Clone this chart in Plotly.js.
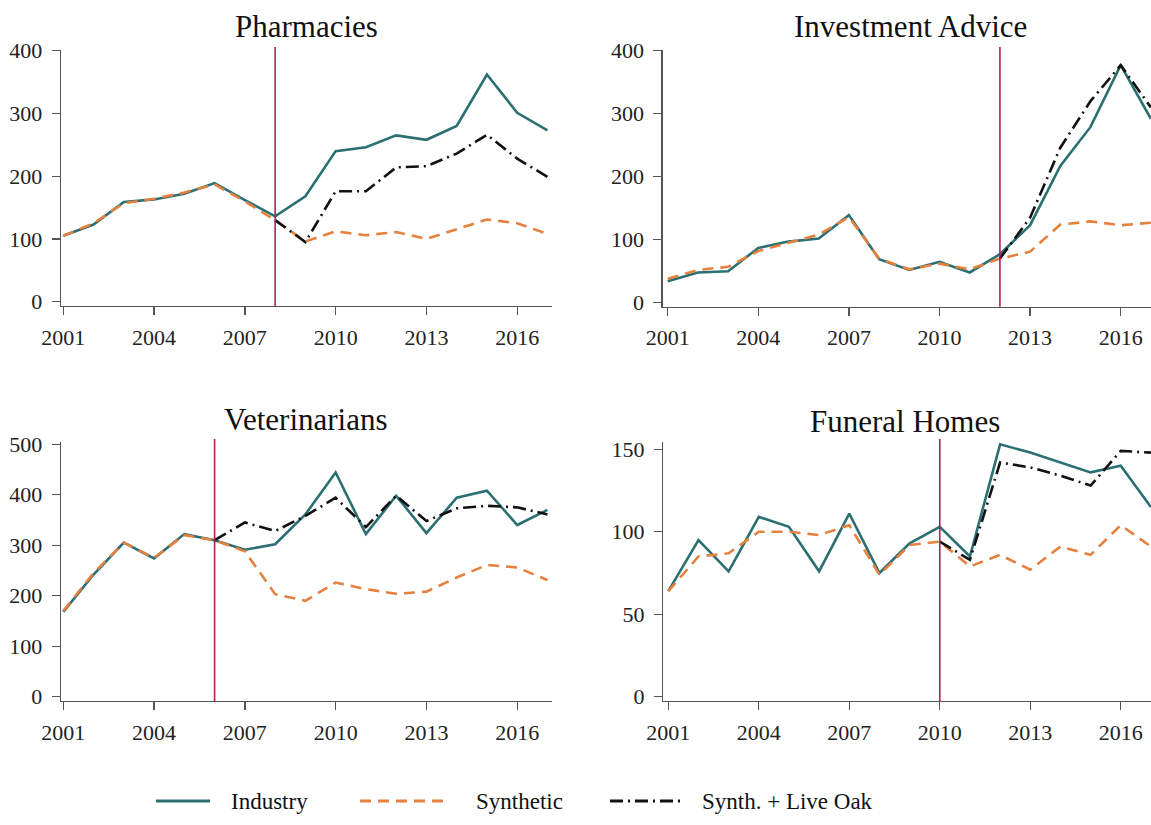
<!DOCTYPE html>
<html>
<head>
<meta charset="utf-8">
<script src="https://cdn.plot.ly/plotly-3.0.1.min.js"></script>
<style>html,body{margin:0;padding:0;background:#fff;}#chart{width:1151px;height:825px;}</style>
</head>
<body>
<div id="chart"></div>
<script>
const years = [2001,2002,2003,2004,2005,2006,2007,2008,2009,2010,2011,2012,2013,2014,2015,2016,2017];
const xTicks = [2001,2004,2007,2010,2013,2016];
const panelTitles = ["Pharmacies","Investment Advice","Veterinarians","Funeral Homes"];
const treatYears = [2008, 2012, 2006, 2010];
const seriesNames = ["Industry","Synthetic","Synth. + Live Oak"];

const pharmIndustry = [105,123,159,163,172,189,162,136,168,240,246,265,258,280,362,301,273];
const pharmSynth    = [105,125,157,164,174,187,160,130,96,112,106,111,100,115,131,125,108];
const pharmLiveOak  = [null,null,null,null,null,null,null,130,95,176,176,214,216,236,266,228,199];

const investIndustry = [34,48,50,87,97,102,139,69,52,65,48,77,123,217,279,377,292];
const investSynth    = [38,52,57,82,95,108,136,70,53,62,53,70,81,124,129,123,127];
const investLiveOak  = [null,null,null,null,null,null,null,null,null,null,null,70,135,246,320,377,310];

const vetIndustry = [168,242,305,274,322,310,291,302,361,444,322,398,324,394,408,340,370];
const vetSynth    = [170,245,305,275,320,310,288,203,190,226,213,204,208,236,261,256,231];
const vetLiveOak  = [null,null,null,null,null,310,345,328,358,394,336,398,348,373,378,375,361];

const funeralIndustry = [64,95,76,109,103,76,111,75,93,103,85,153,148,142,136,140,115];
const funeralSynth    = [64,85,87,100,100,98,104,74,92,94,79,86,77,91,86,104,91];
const funeralLiveOak  = [null,null,null,null,null,null,null,null,null,94,83,142,139,134,128,149,148];

const yTicks = [[0,100,200,300,400],[0,100,200,300,400],[0,100,200,300,400,500],[0,50,100,150]];

const TEAL = '#2b6f73';
const ORANGE = '#e5813f';
const BLACK = '#111111';
const TREAT = '#b8195e';
const FONT = 'Liberation Serif, Times New Roman, serif';

const panels = [
  [pharmIndustry, pharmSynth, pharmLiveOak],
  [investIndustry, investSynth, investLiveOak],
  [vetIndustry, vetSynth, vetLiveOak],
  [funeralIndustry, funeralSynth, funeralLiveOak]
];

const traces = [];
panels.forEach((p, i) => {
  const xa = i === 0 ? 'x' : 'x' + (i + 1);
  const ya = i === 0 ? 'y' : 'y' + (i + 1);
  traces.push({x: years, y: p[0], xaxis: xa, yaxis: ya, mode: 'lines', name: seriesNames[0],
    line: {color: TEAL, width: 2.6}, showlegend: false, hoverinfo: 'skip'});
  traces.push({x: years, y: p[1], xaxis: xa, yaxis: ya, mode: 'lines', name: seriesNames[1],
    line: {color: ORANGE, width: 2.6, dash: '11px,7px'}, showlegend: false, hoverinfo: 'skip'});
  traces.push({x: years, y: p[2], xaxis: xa, yaxis: ya, mode: 'lines', name: seriesNames[2],
    line: {color: BLACK, width: 2.6, dash: '13px,5px,2px,5px'}, showlegend: false, hoverinfo: 'skip', connectgaps: false});
});

function xAxis(domain, range, anchor) {
  return {domain: domain, range: range, anchor: anchor, showline: true, linecolor: '#555', linewidth: 1.3,
    ticks: 'outside', ticklen: 8, tickwidth: 1.3, tickcolor: '#555', tickvals: xTicks,
    showgrid: false, zeroline: false, ticklabelstandoff: 3,
    tickfont: {family: FONT, size: 22, color: '#222'}, fixedrange: true};
}
function yAxis(domain, range, anchor, ticks) {
  return {domain: domain, range: range, anchor: anchor, showline: true, linecolor: '#555', linewidth: 1.3,
    ticks: 'outside', ticklen: 8, tickwidth: 1.3, tickcolor: '#555', tickvals: ticks,
    showgrid: false, zeroline: false, ticklabelstandoff: 5,
    tickfont: {family: FONT, size: 22, color: '#222'}, fixedrange: true};
}

const W = 1151, H = 825;
const layout = {
  width: W, height: H, margin: {l: 0, r: 0, t: 0, b: 0},
  paper_bgcolor: '#fff', plot_bgcolor: '#fff', showlegend: false,
  xaxis:  xAxis([61/W, 551.7/W], [2000.924, 2017.14], 'y'),
  yaxis:  yAxis([1-306/H, 1-49.5/H], [-6.85, 401.9], 'x', yTicks[0]),
  xaxis2: xAxis([662.7/W, 1], [2000.834, 2017.003], 'y2'),
  yaxis2: yAxis([1-306.7/H, 1-49.5/H], [-6.35, 401.9], 'x2', yTicks[1]),
  xaxis3: xAxis([61/W, 551.7/W], [2000.924, 2017.14], 'y3'),
  yaxis3: yAxis([1-701/H, 1-441.7/H], [-8.5, 505], 'x3', yTicks[2]),
  xaxis4: xAxis([663.3/W, 1], [2000.834, 2017.003], 'y4'),
  yaxis4: yAxis([1-701/H, 1-441.7/H], [-2.6, 154.6], 'x4', yTicks[3]),
  shapes: [],
  annotations: []
};

treatYears.forEach((t, i) => {
  const xr = i === 0 ? 'x' : 'x' + (i + 1);
  const yr = (i === 0 ? 'y' : 'y' + (i + 1)) + ' domain';
  layout.shapes.push({type: 'line', xref: xr, yref: yr, x0: t, x1: t, y0: 0, y1: 1.01,
    line: {color: TREAT, width: 1.6}, layer: 'above'});
});

const titlePos = [[306, 27], [910, 27], [306, 420], [905, 422]];
panelTitles.forEach((t, i) => {
  layout.annotations.push({text: t, xref: 'paper', yref: 'paper', x: titlePos[i][0]/W, y: 1 - titlePos[i][1]/H,
    xanchor: 'center', yanchor: 'middle', showarrow: false, font: {family: FONT, size: 31, color: '#111'}});
});

// Legend drawn as shapes + text
const legY = 1 - 801/H;
const legItems = [
  {x0: 156, x1: 210, tx: 229, color: TEAL, dash: 'solid'},
  {x0: 360, x1: 446, tx: 474, color: ORANGE, dash: '11px,7px'},
  {x0: 610, x1: 682, tx: 700, color: BLACK, dash: '13px,5px,2px,5px'}
];
legItems.forEach((it, i) => {
  layout.shapes.push({type: 'line', xref: 'paper', yref: 'paper', x0: it.x0/W, x1: it.x1/W, y0: legY, y1: legY,
    line: {color: it.color, width: 3, dash: it.dash}});
  layout.annotations.push({text: seriesNames[i], xref: 'paper', yref: 'paper', x: it.tx/W, y: legY,
    xanchor: 'left', yanchor: 'middle', showarrow: false, font: {family: FONT, size: 23, color: '#111'}});
});

Plotly.newPlot('chart', traces, layout, {displayModeBar: false, staticPlot: true});
</script>
</body>
</html>
